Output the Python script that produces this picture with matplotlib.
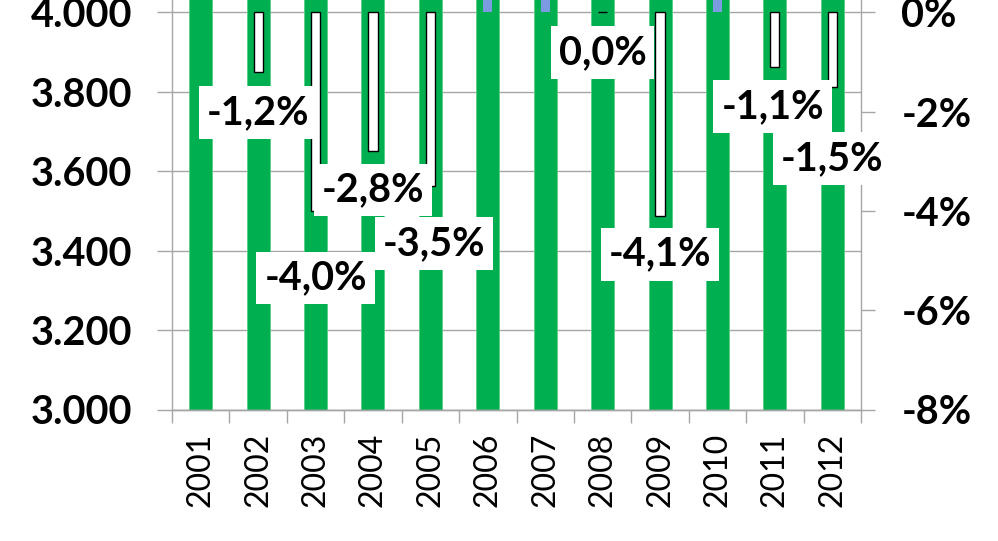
import numpy as np
import matplotlib
matplotlib.use("Agg")
import matplotlib.pyplot as plt
from matplotlib.ticker import FuncFormatter, FixedLocator

plt.rcParams['font.family'] = ['Lato', 'DejaVu Sans']

# ---- data ----
years = ['2001', '2002', '2003', '2004', '2005', '2006',
         '2007', '2008', '2009', '2010', '2011', '2012']
totals = [4850, 4790, 4600, 4470, 4315, 4380, 4450, 4450, 4270, 4300, 4255, 4190]
changes = [np.nan, -1.2, -4.0, -2.8, -3.5, 1.5, 1.6, 0.0, -4.1, 0.7, -1.1, -1.5]

# label placement (percent-axis units) and small horizontal shifts
label_y = [np.nan, -2.02, -5.35, -3.58, -4.66, np.nan, np.nan, -0.81, -4.87, np.nan, -1.90, -2.95]
label_dx = [0, 0, 0, 0, 0.06, 0, 0, 0, 0, 0, -0.04, 0]

GREEN = '#00B050'
BLUE = '#7B9BE0'
GRID = '#A6A6A6'

W, H = 998, 541
fig = plt.figure(figsize=(W / 100, H / 100), dpi=100)
px_per_1000 = 397.2
ax_h = 1.4 * px_per_1000 / H
ax1 = fig.add_axes([172 / W, 131.5 / H, 689 / W, ax_h])
ax2 = ax1.twinx()

x = np.arange(len(years))

# primary bars
ax1.bar(x, totals, width=0.40, color=GREEN, edgecolor='#5ccf8c', linewidth=0.7, zorder=2)
ax1.set_ylim(3000, 4400)
ax1.set_xlim(-0.5, len(years) - 0.5)
ax1.yaxis.set_major_locator(FixedLocator([3000, 3200, 3400, 3600, 3800, 4000]))
ax1.yaxis.set_major_formatter(FuncFormatter(lambda v, p: f"{v:,.0f}".replace(',', '.')))
ax1.grid(axis='y', color=GRID, linewidth=1.0, zorder=0)
ax1.set_axisbelow(True)

# x ticks: labels at centres, tick marks at boundaries
ax1.set_xticks(x)
ax1.set_xticklabels(years, rotation=90, fontsize=23)
ax1.set_xticks(np.arange(-0.5, len(years)), minor=True)
ax1.tick_params(axis='x', which='major', length=0, pad=17)
ax1.tick_params(axis='x', which='minor', length=9.5, width=1.0, color=GRID, direction='out')
ax1.tick_params(axis='y', length=10.5, width=1.0, color=GRID, direction='out', pad=18,
                labelsize=28.5)
for lab in ax1.get_yticklabels():
    lab.set_fontweight('bold')

# secondary bars (percent change), invert-if-negative style
cols = []
edges = []
for c in changes:
    if np.isnan(c):
        cols.append('none'); edges.append('none')
    elif c > 0:
        cols.append(BLUE); edges.append('none')
    else:
        cols.append('white'); edges.append('black')
vals = [0 if np.isnan(c) else c for c in changes]
ax2.bar(x, vals, width=0.16, color=cols, edgecolor=edges, linewidth=1.0, zorder=3)
ax2.set_ylim(-8, 3.2)
ax2.yaxis.set_major_locator(FixedLocator([-8, -6, -4, -2, 0]))
ax2.yaxis.set_major_formatter(FuncFormatter(lambda v, p: f"{v:.0f}%".replace('−', '-')))
ax2.tick_params(axis='y', length=10, width=1.0, color=GRID, direction='out', pad=19,
                labelsize=28.5)
for lab in ax2.get_yticklabels():
    lab.set_fontweight('bold')

for i, c in enumerate(changes):
    if np.isnan(c) or np.isnan(label_y[i]):
        continue
    ax2.text(x[i] + label_dx[i], label_y[i], f"{c:.1f}%".replace('.', ','),
             ha='center', va='center', fontsize=28.5, fontweight='bold', color='black',
             bbox=dict(boxstyle='square,pad=0.2', fc='white', ec='none'), zorder=10,
             clip_on=False)

for ax in (ax1, ax2):
    for s in ax.spines.values():
        s.set_color(GRID)
        s.set_linewidth(1.0)
    ax.spines['top'].set_visible(False)
ax1.spines['right'].set_visible(False)
ax2.spines['left'].set_visible(False)

fig.savefig('out.png', dpi=100)
